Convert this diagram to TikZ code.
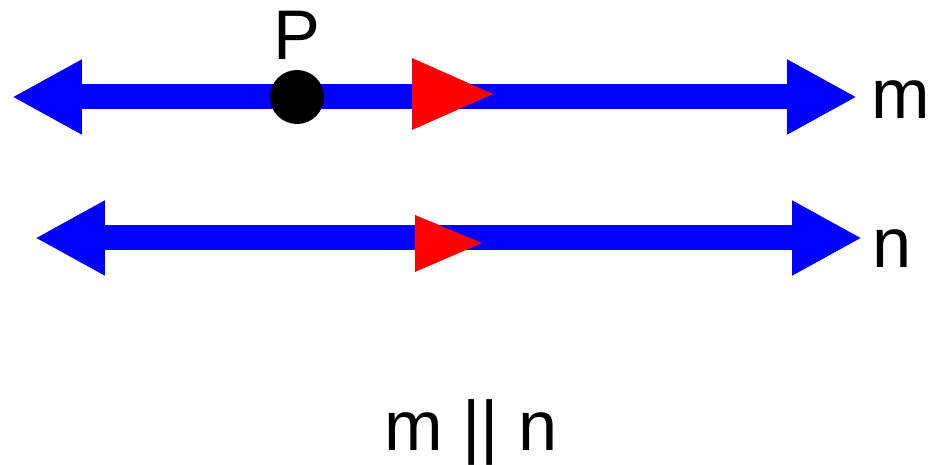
\documentclass[tikz,border=0pt]{standalone}
\usepackage{fontspec}
\setmainfont{Liberation Sans}
\usetikzlibrary{arrows.meta,positioning}

\begin{document}
\begin{tikzpicture}[
  x=0.02cm, y=-0.02cm,
  line/.style={{Triangle[length=1.4cm, width=1.4cm]}-{Triangle[length=1.4cm, width=1.4cm]}, blue, line width=0.5cm},
  dirmark/.style={fill=red},
  lbl/.style={font=\fontsize{40}{48}\selectfont, inner sep=0pt}
]

\useasboundingbox (0,0) rectangle (930,465);

\coordinate (mL) at (12,97);
\coordinate (mR) at (857,97);
\coordinate (nL) at (35,238);
\coordinate (nR) at (862,238);

\draw[line] (mL) -- (mR);
\draw[line] (nL) -- (nR);

% direction marks
\fill[dirmark] (412,58) -- (493,94) -- (412,130) -- cycle;
\fill[dirmark] (415,215) -- (482,243) -- (415,272) -- cycle;

\node[circle, fill=black, minimum size=1.08cm, inner sep=0pt] (P) at (297,97) {};
\node[lbl, anchor=base] (Plbl) at (297,60) {P};

\node[lbl, anchor=base west] (mlbl) at (871,119) {m};
\node[lbl, anchor=base west] (nlbl) at (872,268) {n};
\node[lbl, anchor=base] (par) at (471,451) {m || n};
\end{tikzpicture}
\end{document}
